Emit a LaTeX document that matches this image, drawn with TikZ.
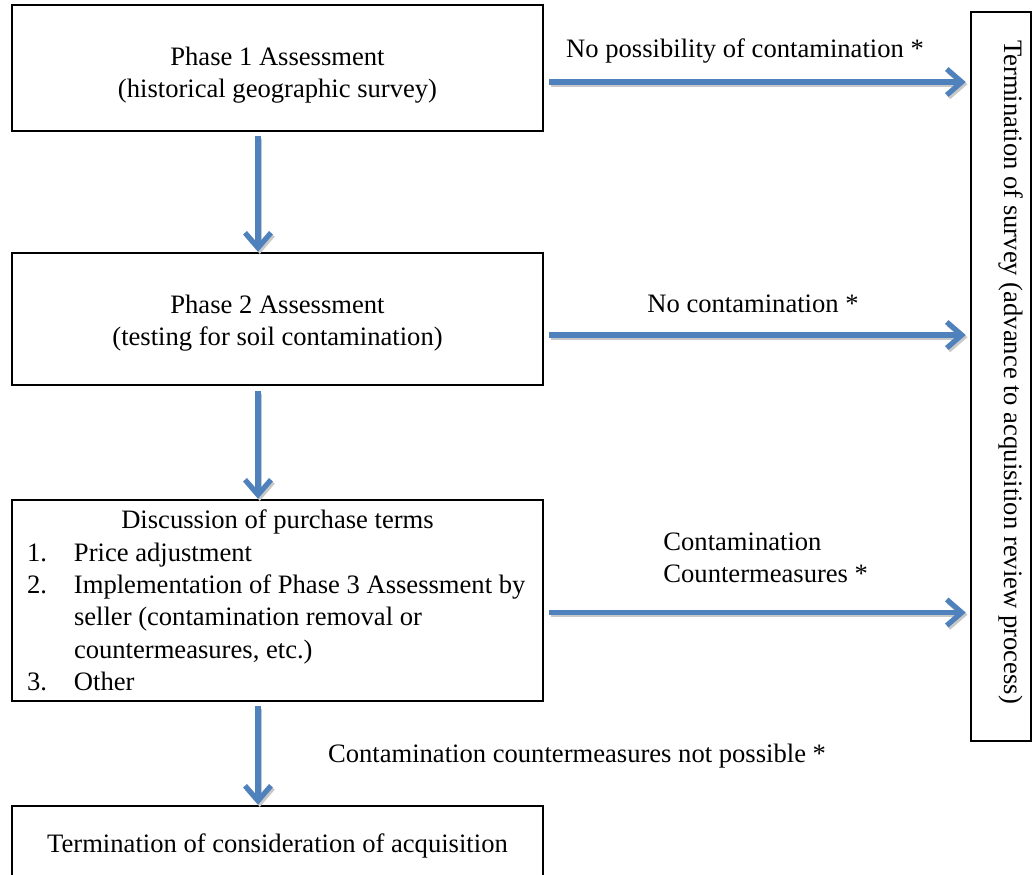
\documentclass[tikz,border=0pt]{standalone}
\usepackage{fontspec}
\setmainfont{Liberation Serif}
\usetikzlibrary{arrows.meta,calc}
\definecolor{arrowblue}{HTML}{4F81BD}
\definecolor{shadowgray}{HTML}{C8C8C8}
\tikzset{
  every node/.style={font=\fontsize{13.3}{16.2}\selectfont},
  box/.style={draw=black, line width=1.3pt, rectangle, inner sep=0pt},
  arrowline/.style={draw=arrowblue, line width=2.6pt, -{Straight Barb[length=7.5pt,width=13pt]}},
  shadowline/.style={draw=shadowgray, line width=2.6pt, -{Straight Barb[length=7.5pt,width=13pt]}, transform canvas={shift={(0.9pt,-1.1pt)}}},
  lbl/.style={inner sep=0pt, align=left},
}
\newcommand\connect[2]{%
  \draw[shadowline] #1 -- #2;
  \draw[arrowline] #1 -- #2;}
\newcommand\itemnum[1]{\makebox[23.5pt][l]{#1}}
\begin{document}
\begin{tikzpicture}[x=0.5pt,y=-0.5pt]
\useasboundingbox (0,0) rectangle (1032,874);
\clip (0,0) rectangle (1032,874);

% boxes
\node[box, minimum width=265.5pt, minimum height=63pt] (p1) at (277.5,68)
  {\raisebox{-7pt}[0pt][0pt]{\begin{tabular}{@{}c@{}}Phase 1 Assessment\\(historical geographic survey)\end{tabular}}};
\node[box, minimum width=265.5pt, minimum height=66pt] (p2) at (277.5,319)
  {\raisebox{-5.5pt}[0pt][0pt]{\begin{tabular}{@{}c@{}}Phase 2 Assessment\\(testing for soil contamination)\end{tabular}}};
\node[box, minimum width=265.5pt, minimum height=100.5pt, inner xsep=7.5pt] (p3) at (277.5,600.5)
  {\parbox{250.5pt}{\baselineskip=16.2pt
   \makebox[250.5pt][c]{Discussion of purchase terms}\\
   \mbox{\itemnum{1.}Price adjustment}\\
   \mbox{\itemnum{2.}Implementation of Phase 3 Assessment by}\\
   \mbox{\hspace*{23.5pt}seller (contamination removal or}\\
   \mbox{\hspace*{23.5pt}countermeasures, etc.)}\\
   \mbox{\itemnum{3.}Other}}};
\node[box, minimum width=265.5pt, minimum height=40pt] (p4) at (277.5,846)
  {Termination of consideration of acquisition};
\node[box, minimum width=30pt, minimum height=364.5pt] (term) at (1001,376.5) {};
\node[rotate=-90, inner sep=0pt] (termtext) at (1011,372)
  {Termination of survey (advance to acquisition review process)};

% vertical connectors
\connect{([xshift=-9.75pt,yshift=-2pt]p1.south)}{([xshift=-9.75pt]p2.north)}
\connect{([xshift=-9.75pt,yshift=-2.5pt]p2.south)}{([xshift=-9.75pt]p3.north)}
\connect{([xshift=-9.75pt,yshift=-2pt]p3.south)}{([xshift=-9.75pt]p4.north)}

% horizontal connectors
\coordinate (a1) at ([xshift=2.5pt,yshift=-7pt]p1.east);
\coordinate (a2) at ([xshift=2.5pt,yshift=-8pt]p2.east);
\coordinate (a3) at ([xshift=2.5pt,yshift=-6pt]p3.east);
\connect{(a1)}{($(a1 -| term.west)+(-4,0)$)}
\connect{(a2)}{($(a2 -| term.west)+(-4,0)$)}
\connect{(a3)}{($(a3 -| term.west)+(-4,0)$)}

% labels
\node[lbl] (l1) at (745,51) {No possibility of contamination *};
\node[lbl] (l2) at (753,304) {No contamination *};
\node[lbl, anchor=west] (l3) at (663,558) {Contamination\\Countermeasures *};
\node[lbl] (l4) at (577,756) {Contamination countermeasures not possible *};
\end{tikzpicture}
\end{document}
